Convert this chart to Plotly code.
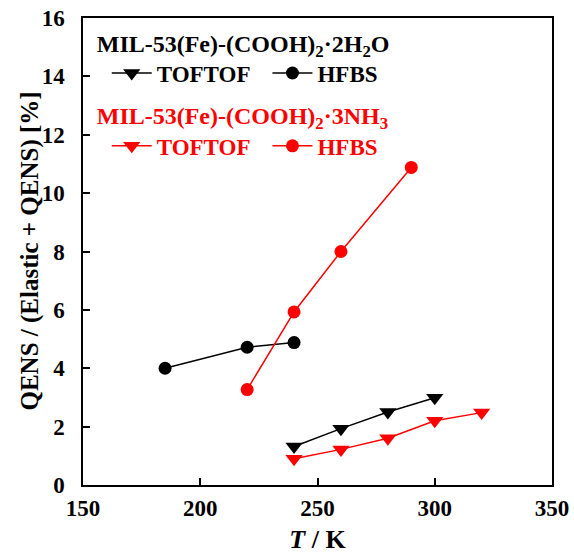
import plotly.graph_objects as go

T_hfbs_h2o = [185, 220, 240]
Q_hfbs_h2o = [4.0, 4.72, 4.88]
T_tof_h2o = [240, 260, 280, 300]
Q_tof_h2o = [1.32, 1.93, 2.5, 2.99]
T_hfbs_nh3 = [220, 240, 260, 290]
Q_hfbs_nh3 = [3.27, 5.93, 8.0, 10.88]
T_tof_nh3 = [240, 260, 280, 300, 320]
Q_tof_nh3 = [0.9, 1.22, 1.6, 2.2, 2.48]

FONT = "Liberation Serif"
RED = "#ff0000"

fig = go.Figure()

def add(x, y, name, color, symbol, size, legend):
    fig.add_trace(go.Scatter(
        x=x, y=y, name=f"<b>{name}</b>", mode="lines+markers",
        line=dict(color=color, width=1.5),
        marker=dict(symbol=symbol, size=size, color=color),
        legend=legend,
    ))

add(T_tof_h2o, Q_tof_h2o, "TOFTOF", "black", "triangle-down", 15, "legend")
add(T_hfbs_h2o, Q_hfbs_h2o, "HFBS", "black", "circle", 13, "legend")
add(T_tof_nh3, Q_tof_nh3, "TOFTOF", RED, "triangle-down", 15, "legend2")
add(T_hfbs_nh3, Q_hfbs_nh3, "HFBS", RED, "circle", 13, "legend2")

axis_common = dict(
    showline=True, linecolor="black", linewidth=1.5, mirror=True,
    ticks="inside", ticklen=7, tickwidth=1.5, tickcolor="black",
    showgrid=False, zeroline=False, automargin=False,
    tickfont=dict(family=FONT, size=23, color="black", weight="bold"),
)

fig.update_layout(
    width=574, height=554,
    margin=dict(l=83, r=22, t=18, b=69),
    plot_bgcolor="white", paper_bgcolor="white",
    font=dict(family=FONT, color="black"),
    xaxis=dict(range=[150, 350], dtick=50, ticklabelstandoff=2,
               title=dict(text="<b><i>T</i> / K</b>", font=dict(family=FONT, size=26), standoff=10),
               **axis_common),
    yaxis=dict(range=[0, 16], dtick=2, ticklabelstandoff=12, **axis_common),
    legend=dict(
        title=dict(text="<b>MIL-53(Fe)-(COOH)<sub>2</sub>·2H<sub>2</sub>O</b>", side="top",
                   font=dict(family=FONT, size=24, color="black")),
        orientation="h", x=0.025, y=0.995, xanchor="left", yanchor="top",
        bgcolor="rgba(0,0,0,0)", itemwidth=40, tracegroupgap=0, indentation=12,
        font=dict(family=FONT, size=23, color="black"),
    ),
    legend2=dict(
        title=dict(text="<b>MIL-53(Fe)-(COOH)<sub>2</sub>·3NH<sub>3</sub></b>", side="top",
                   font=dict(family=FONT, size=24, color=RED)),
        orientation="h", x=0.025, y=0.839, xanchor="left", yanchor="top",
        bgcolor="rgba(0,0,0,0)", itemwidth=40, tracegroupgap=0, indentation=12,
        font=dict(family=FONT, size=23, color=RED),
    ),
    annotations=[dict(
        text="<b>QENS / (Elastic + QENS) [%]</b>", textangle=-90,
        xref="paper", yref="paper", x=(29 - 83) / 469, y=0.5,
        xanchor="center", yanchor="middle", showarrow=False,
        font=dict(family=FONT, size=25, color="black"),
    )],
)

fig.write_html("out.html")
